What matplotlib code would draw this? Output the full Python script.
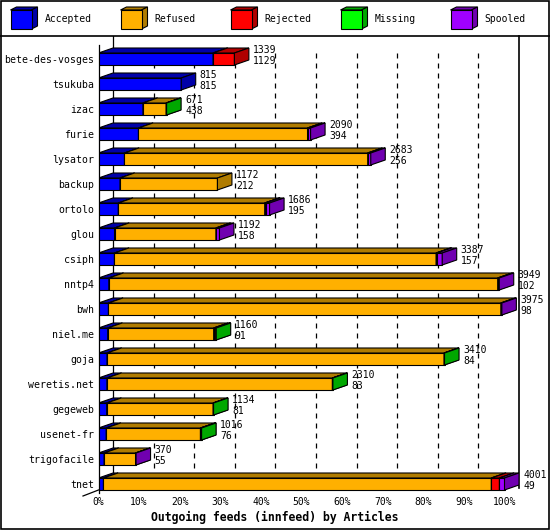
import matplotlib
matplotlib.use("Agg")
from matplotlib import pyplot as plt
from matplotlib.patches import Rectangle, Polygon

hosts = ["bete-des-vosges", "tsukuba", "izac", "furie", "lysator", "backup",
         "ortolo", "glou", "csiph", "nntp4", "bwh", "niel.me", "goja",
         "weretis.net", "gegeweb", "usenet-fr", "trigofacile", "tnet"]
total = [1339, 815, 671, 2090, 2683, 1172, 1686, 1192, 3387, 3949, 3975,
         1160, 3410, 2310, 1134, 1016, 370, 4001]
accepted = [1129, 815, 438, 394, 256, 212, 195, 158, 157, 102, 98, 91, 84,
            83, 81, 76, 55, 49]
refused = [0, 0, 228, 1666, 2397, 960, 1443, 999, 3170, 3832, 3867, 1044,
           3321, 2222, 1048, 929, 310, 3822]
rejected = [210, 0, 0, 0, 0, 0, 0, 0, 10, 0, 0, 20, 0, 0, 0, 8, 0, 80]
missing = [0, 0, 5, 0, 0, 0, 8, 0, 0, 0, 0, 5, 5, 5, 5, 3, 0, 0]
spooled = [0, 0, 0, 30, 30, 0, 40, 35, 50, 15, 10, 0, 0, 0, 0, 0, 5, 50]

series = ["Accepted", "Refused", "Rejected", "Missing", "Spooled"]
front_col = ["#0000ff", "#ffb000", "#ff0000", "#00ff00", "#a000ff"]
dark_col = ["#0000a8", "#b07c00", "#b00000", "#00a800", "#7000b0"]

W, H = 550, 530
PX_PCT = 4.06      # pixels per percent
X0 = 98.5          # pixel of 0%
ROW0, ROW = 59, 25  # pixel of first row centre, row pitch
TOP, BOT, RIGHT = 36, 493, 519


def r(py):
    return (py - ROW0) / ROW


def p(px):
    return (px - X0) / PX_PCT


fig = plt.figure(figsize=(W / 100, H / 100), dpi=100)
fig.patch.set_facecolor("white")

# overlay in pixel units for frame + legend
lax = fig.add_axes([0, 0, 1, 1])
lax.set_xlim(0, W)
lax.set_ylim(H, 0)
lax.axis("off")
lax.add_patch(Rectangle((0.5, 0.5), W - 1.5, H - 1.5, fill=False, ec="black", lw=1.2))
lax.plot([0, W], [35.5, 35.5], color="black", lw=1.2)
for i, name in enumerate(series):
    bx = 10.5 + 110 * i
    lax.add_patch(Polygon([(bx, 10), (bx + 21, 10), (bx + 27, 7), (bx + 6, 7)],
                          fc=dark_col[i], ec="black", lw=0.8))
    lax.add_patch(Polygon([(bx + 21, 10), (bx + 21, 29), (bx + 27, 26), (bx + 27, 7)],
                          fc=dark_col[i], ec="black", lw=0.8))
    lax.add_patch(Rectangle((bx, 10), 21, 19, fc=front_col[i], ec="black", lw=0.8))
    lax.text(bx + 34, 19.5, name, family="DejaVu Sans Mono", fontsize=7,
             va="center", ha="left")

ax = fig.add_axes([X0 / W, (H - BOT) / H, (RIGHT - X0) / W, (BOT - TOP) / H])
ax.set_xlim(0, p(RIGHT))
ax.set_ylim(r(BOT), r(TOP))
ax.set_facecolor("none")
for s in ax.spines.values():
    s.set_visible(False)

dx = 14.5 / PX_PCT
dy = 5.0 / ROW
h = 12.0 / ROW
scale = max(total)

# back plane lines
ax.plot([dx, dx], [r(BOT - 5), r(TOP)], color="black", lw=0.9, zorder=1)
ax.plot([p(RIGHT), p(RIGHT)], [r(BOT - 5), r(TOP)], color="black", lw=1.2,
        zorder=1, clip_on=False)
for g in range(10, 100, 10):
    ax.plot([g + dx, g + dx], [r(BOT - 5), r(50)], color="black", lw=0.9,
            linestyle=(0, (4, 4)), zorder=1)
# front axis and floor corner
ax.plot([0, 0], [r(BOT), r(45)], color="black", lw=0.9, zorder=1, clip_on=False)
ax.plot([0, p(83)], [r(490), r(496)], color="black", lw=0.9, clip_on=False)

z = 2
for j in range(len(hosts)):
    vals = [accepted[j], refused[j], rejected[j], missing[j], spooled[j]]
    yt = j - h / 2
    yb = j + h / 2
    left = 0.0
    for k, v in enumerate(vals):
        if v <= 0:
            continue
        w = v / scale * 100
        ax.add_patch(Rectangle((left, yt), w, h, fc=front_col[k], ec="black",
                               lw=0.8, zorder=z))
        ax.add_patch(Polygon([(left, yt), (left + w, yt), (left + w + dx, yt - dy),
                              (left + dx, yt - dy)], fc=dark_col[k], ec="black",
                             lw=0.8, zorder=z))
        ax.add_patch(Polygon([(left + w, yt), (left + w, yb), (left + w + dx, yb - dy),
                              (left + w + dx, yt - dy)], fc=dark_col[k], ec="black",
                             lw=0.8, zorder=z))
        z += 1
        left += w
    tx = total[j] / scale * 100 + dx + 4 / PX_PCT
    ax.text(tx, j - 9 / ROW, str(total[j]), family="DejaVu Sans Mono",
            fontsize=7, va="center", ha="left", zorder=100, clip_on=False)
    ax.text(tx, j + 2 / ROW, str(accepted[j]), family="DejaVu Sans Mono",
            fontsize=7, va="center", ha="left", zorder=100, clip_on=False)

ax.set_yticks(range(len(hosts)))
ax.set_yticklabels(hosts, family="DejaVu Sans Mono", fontsize=7.1)
ax.set_xticks(range(0, 101, 10))
ax.set_xticklabels(["%d%%" % t for t in range(0, 101, 10)],
                   family="DejaVu Sans Mono", fontsize=7)
ax.tick_params(axis="y", length=0, pad=3.3)
ax.tick_params(axis="x", length=0, pad=3)

fig.text(0.5, (H - 517) / H, "Outgoing feeds (innfeed) by Articles",
         family="DejaVu Sans Mono", fontweight="bold", fontsize=8.3,
         ha="center", va="center")

plt.savefig("out.png", dpi=100)
plt.close(fig)
